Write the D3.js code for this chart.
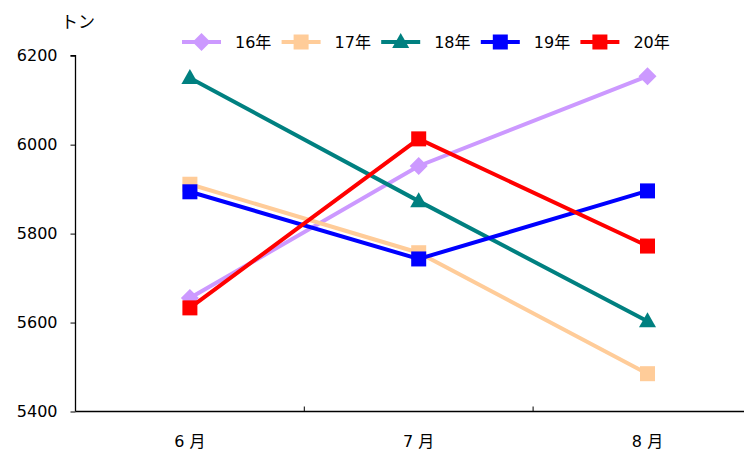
<!DOCTYPE html>
<html><head><meta charset="utf-8">
<script src="https://cdn.jsdelivr.net/npm/d3@7"></script>
<style>body{margin:0;background:#fff}svg{display:block}</style>
</head><body>
<svg id="c" width="744" height="449"></svg>
<script>
const categories = ["6 月", "7 月", "8 月"];
const seriesNames = ["16年", "17年", "18年", "19年", "20年"];
const s16 = [5655, 5952, 6154];
const s17 = [5911, 5757, 5485];
const s18 = [6150, 5873, 5603];
const s19 = [5894, 5743, 5896];
const s20 = [5633, 6013, 5772];
const yTicks = [5400, 5600, 5800, 6000, 6200];
const colors = ["#CC99FF", "#FFCC99", "#008080", "#0000FF", "#FF0000"];
const shapes = ["diamond", "square", "triangle", "square", "square"];
const unitLabel = "トン";

const data = [s16, s17, s18, s19, s20];
const font = "'DejaVu Sans', 'Noto Sans CJK JP', sans-serif";
const svg = d3.select("#c");
const x0 = 75.5, bw = 228.8;
const x = d3.scaleBand().domain(categories).range([x0, x0 + bw * 3]).paddingInner(0).paddingOuter(0);
const y = d3.scaleLinear().domain([5400, 6200]).range([411.5, 55.7]);

// axes
const ya = svg.append("g").attr("transform", `translate(${x0},0)`)
  .call(d3.axisLeft(y).tickValues(yTicks).tickSize(5).tickPadding(13).tickFormat(d3.format("d")));
ya.select(".domain").attr("stroke", "#000").attr("stroke-width", 1.3).attr("d", `M-5,${y(6200)}H0V${y(5400)}`);
ya.selectAll("text").attr("font-family", font).attr("font-size", 16).attr("fill", "#000");

const xa = svg.append("g").attr("transform", `translate(0,${y(5400)})`);
xa.append("line").attr("x1", x0).attr("x2", 744).attr("stroke", "#000").attr("stroke-width", 1.3);
categories.slice(1).forEach(c => {
  xa.append("line").attr("x1", x(c)).attr("x2", x(c)).attr("y1", 0).attr("y2", -5).attr("stroke", "#000").attr("stroke-width", 1);
});
categories.forEach(c => {
  xa.append("text").attr("x", x(c) + x.bandwidth() / 2).attr("y", 35).attr("text-anchor", "middle")
    .attr("font-family", font).attr("font-size", 16).attr("xml:space", "preserve").style("white-space", "pre").text(c);
});

svg.append("text").attr("x", 61).attr("y", 28).attr("font-family", font).attr("font-size", 17).text(unitLabel);

function marker(g, shape, color, cx, cy) {
  if (shape === "diamond") {
    g.append("path").attr("d", `M0,-9L9,0L0,9L-9,0Z`).attr("transform", `translate(${cx},${cy})`).attr("fill", color);
  } else if (shape === "triangle") {
    g.append("path").attr("d", `M0,-9L8.5,6H-8.5Z`).attr("transform", `translate(${cx},${cy})`).attr("fill", color);
  } else {
    g.append("rect").attr("x", cx - 7.5).attr("y", cy - 7.5).attr("width", 15).attr("height", 15).attr("fill", color);
  }
}

const line = d3.line().x((d, i) => x(categories[i]) + x.bandwidth() / 2).y(d => y(d));
data.forEach((s, k) => {
  const g = svg.append("g");
  g.append("path").attr("d", line(s)).attr("fill", "none").attr("stroke", colors[k]).attr("stroke-width", 4);
  s.forEach((v, i) => marker(g, shapes[k], colors[k], x(categories[i]) + x.bandwidth() / 2, y(v)));
});

// legend
const lg = svg.append("g");
seriesNames.forEach((n, k) => {
  const lx = 182 + k * 99.6, ly = 42;
  lg.append("line").attr("x1", lx).attr("x2", lx + 39).attr("y1", ly).attr("y2", ly).attr("stroke", colors[k]).attr("stroke-width", 4);
  marker(lg, shapes[k], colors[k], lx + 19.5, ly);
  lg.append("text").attr("x", lx + 53).attr("y", ly + 6).attr("font-family", font).attr("font-size", 16).text(n);
});
</script>
</body></html>
